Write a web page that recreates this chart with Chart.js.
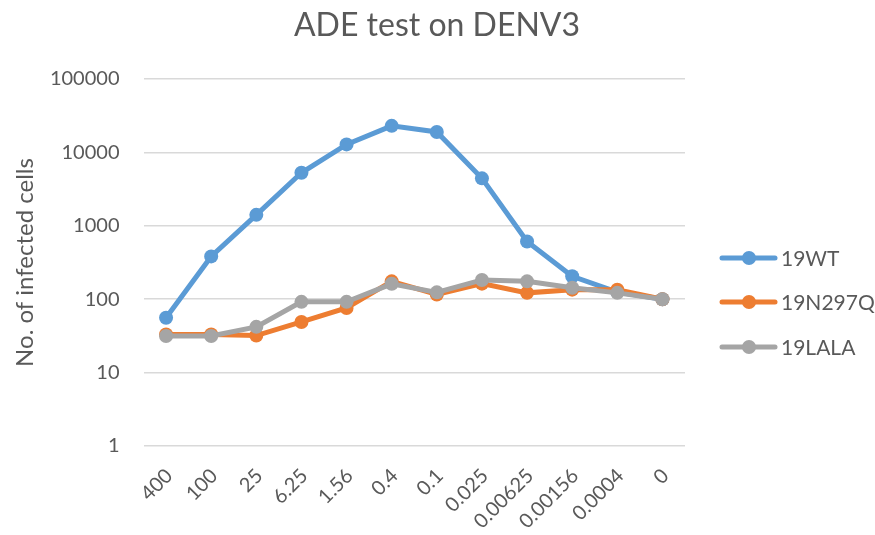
<!DOCTYPE html>
<html>
<head>
<meta charset="utf-8">
<script src="https://cdn.jsdelivr.net/npm/chart.js@4/dist/chart.umd.min.js"></script>
<style>
  html, body { margin: 0; padding: 0; background: #ffffff; }
  #wrap { width: 875px; height: 535px; position: relative; }
</style>
</head>
<body>
<div id="wrap"><canvas id="chart" width="875" height="535"></canvas></div>
<script>
// Antibody dilutions (x categories)
const dilutions = ['400', '100', '25', '6.25', '1.56', '0.4', '0.1', '0.025', '0.00625', '0.00156', '0.0004', '0'];

// Number of infected cells per antibody variant
const wt19    = [56, 383, 1410, 5280, 12850, 23000, 19000, 4430, 612, 205, 125, 100];
const n297q19 = [33, 33, 32, 49, 76, 175, 116, 163, 122, 135, 135, 100];
const lala19  = [31.5, 31.5, 42, 92, 92, 162, 124, 183, 175, 143, 122, 100];

// Log axis tick values
const yTicks = [1, 10, 100, 1000, 10000, 100000];

const chartTitle = 'ADE test on DENV3';
const seriesNames = ['19WT', '19N297Q', '19LALA'];
const seriesColors = ['#5b9bd5', '#ed7d31', '#a5a5a5'];

const FONT = 'Lato, "Open Sans", "DejaVu Sans", sans-serif';
const TEXT = '#595959';

// Title centred over the whole canvas
const pageTitle = {
  id: 'pageTitle',
  afterDraw(chart) {
    const ctx = chart.ctx;
    ctx.save();
    ctx.fillStyle = TEXT;
    ctx.font = '32px ' + FONT;
    ctx.textAlign = 'center';
    ctx.textBaseline = 'alphabetic';
    ctx.fillText(chartTitle, 437, 36);
    ctx.restore();
  }
};

// Legend on the right: line with a dot, then the series name
const sideLegend = {
  id: 'sideLegend',
  afterDraw(chart) {
    const ctx = chart.ctx;
    const ys = [258, 302, 347];
    ctx.save();
    seriesNames.forEach((name, i) => {
      const y = ys[i];
      ctx.strokeStyle = seriesColors[i];
      ctx.lineWidth = 5;
      ctx.lineCap = 'round';
      ctx.beginPath();
      ctx.moveTo(722, y);
      ctx.lineTo(775, y);
      ctx.stroke();
      ctx.fillStyle = seriesColors[i];
      ctx.beginPath();
      ctx.arc(749, y, 7, 0, Math.PI * 2);
      ctx.fill();
      ctx.fillStyle = TEXT;
      ctx.font = '21px ' + FONT;
      ctx.textAlign = 'left';
      ctx.textBaseline = 'middle';
      ctx.fillText(name, 781, y + 1);
    });
    ctx.restore();
  }
};

const makeSet = (label, data, color, order) => ({
  label,
  data,
  borderColor: color,
  backgroundColor: color,
  borderWidth: 5,
  pointRadius: 7,
  pointHoverRadius: 7,
  pointBorderWidth: 0,
  pointBackgroundColor: color,
  tension: 0,
  order
});

new Chart(document.getElementById('chart'), {
  type: 'line',
  data: {
    labels: dilutions,
    datasets: [
      makeSet(seriesNames[0], wt19, seriesColors[0], 3),
      makeSet(seriesNames[1], n297q19, seriesColors[1], 2),
      makeSet(seriesNames[2], lala19, seriesColors[2], 1)
    ]
  },
  options: {
    responsive: false,
    animation: false,
    layout: { padding: { left: 0, right: 190, top: 79, bottom: 0 } },
    plugins: {
      legend: { display: false },
      tooltip: { enabled: false },
      title: { display: false }
    },
    scales: {
      x: {
        type: 'category',
        offset: true,
        grid: { display: false, drawTicks: false },
        border: { display: false },
        ticks: {
          color: TEXT,
          font: { family: FONT, size: 20 },
          maxRotation: 45,
          minRotation: 45,
          autoSkip: false,
          padding: 18,
          labelOffset: 3
        },
        afterFit(scale) { scale.height = 89; }
      },
      y: {
        type: 'logarithmic',
        min: 1,
        max: 100000,
        afterBuildTicks(scale) {
          scale.ticks = yTicks.map(v => ({ value: v }));
        },
        grid: { color: '#d9d9d9', lineWidth: 1.5, drawTicks: false },
        border: { display: false },
        ticks: {
          color: TEXT,
          font: { family: FONT, size: 20 },
          padding: 24,
          callback: (v) => String(v)
        },
        title: {
          display: true,
          text: 'No. of infected cells',
          color: TEXT,
          font: { family: FONT, size: 24 },
          padding: { top: 11, bottom: 0 }
        },
        afterFit(scale) { scale.width = 143.5; }
      }
    }
  },
  plugins: [pageTitle, sideLegend]
});
</script>
</body>
</html>
